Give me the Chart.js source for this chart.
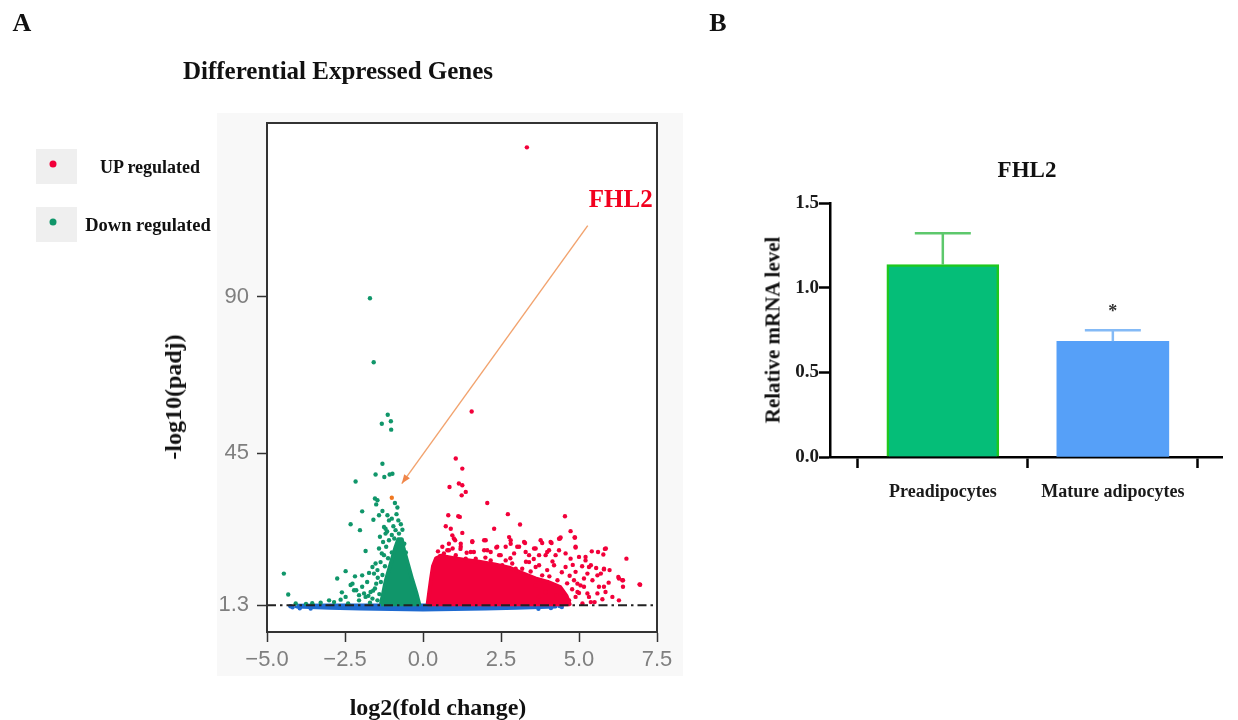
<!DOCTYPE html>
<html>
<head>
<meta charset="utf-8">
<script src="https://cdn.jsdelivr.net/npm/chart.js@4.4.0/dist/chart.umd.min.js"></script>
<style>
  body { margin: 0; width: 1238px; height: 720px; position: relative; overflow: hidden; background: #fff;
         font-family: "Liberation Serif", "Times New Roman", serif; font-weight: bold; color: #111; }
  .t { position: absolute; transform: translate(-50%, -50%); line-height: 1; white-space: nowrap; }
  .v { transform: translate(-50%, -50%) rotate(-90deg); }
  #panelA { position: absolute; left: 217px; top: 113px; width: 466px; height: 563px; background: #f8f8f8; }
  .box { position: absolute; left: 36px; width: 41px; height: 35px; background: #efefef; }
  .dot { position: absolute; width: 7px; height: 7px; border-radius: 50%; transform: translate(-50%, -50%); }
  canvas { position: absolute; top: 0; }
</style>
</head>
<body>
<div id="panelA"></div>
<canvas id="volcano" width="700" height="720" style="left:0"></canvas>
<canvas id="bars" width="538" height="720" style="left:700px"></canvas>

<div class="t" style="left:22px;top:23px;font-size:26px">A</div>
<div class="t" style="left:718px;top:23px;font-size:26px">B</div>
<div class="t" style="left:338px;top:70px;font-size:25px">Differential Expressed Genes</div>

<div class="box" style="top:149px"></div>
<div class="dot" style="left:53px;top:164px;background:#f2003a"></div>
<div class="t" style="left:150px;top:167px;font-size:18px">UP regulated</div>
<div class="box" style="top:207px"></div>
<div class="dot" style="left:53px;top:222px;background:#10966a"></div>
<div class="t" style="left:148px;top:225px;font-size:18.5px">Down regulated</div>

<div class="t v" style="left:173px;top:397px;font-size:24px">-log10(padj)</div>
<div class="t" style="left:438px;top:707px;font-size:24px">log2(fold change)</div>

<div class="t" style="left:1027px;top:169px;font-size:23px">FHL2</div>
<div class="t v" style="left:773px;top:330px;font-size:21px">Relative mRNA level</div>

<script>
// ---- panel A: volcano plot (log2 fold change, -log10 padj) ----
const xTicksA = [-5, -2.5, 0, 2.5, 5, 7.5];
const yTicksA = [1.3, 45, 90];
const padjCut = 1.3;

const upGenes = [
  [3.33,133.0],[1.56,57.0],[1.05,43.5],[1.26,40.6],[0.85,35.3],[1.15,36.3],[1.26,35.8],[1.37,33.9],[1.24,32.9],
  [2.06,30.7],[0.81,27.2],[1.13,26.9],[1.18,26.7],[2.72,27.5],[0.73,24.0],[0.89,23.3],[2.28,23.3],[3.11,24.5],
  [4.55,26.9],[4.73,22.6],[4.86,20.8],[1.26,22.1],[2.76,20.9],[2.81,20.0],[3.27,19.2],[2.01,20.0],
  [3.82,19.2],[4.12,19.2],[4.36,20.4],[4.41,20.8],[4.89,18.1],[5.41,16.8],[5.61,16.6],[5.83,17.5],
  [6.52,14.7],[5.98,11.4],[5.80,11.6],[6.26,9.4],[6.39,8.5],[6.94,7.3],[6.28,9.0],
  [0.94,21.4],[1.03,20.0],[1.21,19.0],[1.58,19.5],[1.63,16.6],[1.96,17.1],[2.35,17.9],[2.44,15.7],[2.65,18.1],
  [2.92,16.2],[3.08,18.1],[3.40,15.7],[3.56,17.6],[3.72,15.7],[4.04,17.1],[4.25,15.7],[4.57,16.2],[4.73,14.7],
  [5.00,15.2],[5.21,14.2],[5.38,12.8],[5.27,10.4],[5.43,8.5],[5.70,10.4],[5.64,6.6],[5.85,5.1],[5.16,6.6],
  [4.95,7.5],[4.89,3.7],[5.32,3.7],[5.11,1.8],[4.68,2.7],[4.47,5.1],[4.31,8.5],[4.89,10.9],[4.57,12.3],
  [4.84,8.5],[3.98,11.4],[3.61,12.3],[3.18,11.8],[2.86,13.3],[2.54,12.8],[2.17,14.2],[1.79,13.7],[1.37,14.7],
  [1.05,15.7],[0.78,17.1],[0.62,18.1],[0.83,19.0],[0.67,16.2],
  [6.41,6.6],[6.07,3.7],[6.28,2.7],[7.56,2.5],[7.57,4.5],[7.58,6.3],
  [5.50,2.2],[5.00,4.8],[5.75,3.0],[5.95,7.8],[5.55,12.0],[5.10,12.5],[4.70,9.8],[4.20,12.8],[3.30,13.8],
  [2.00,15.0],[1.20,17.5],[0.55,15.5],
  [0.99,20.5],[1.58,19.7],[1.96,20.0],[3.24,19.5],[3.77,20.0],[0.83,17.1],[1.21,18.1],[1.53,16.6],
  [2.06,17.1],[2.17,16.6],[2.38,18.1],[2.49,15.7],[2.81,19.0],[3.02,18.1],[3.29,16.6],[3.61,17.6],[3.93,15.7],
  [1.69,14.7],[2.65,14.2],[3.40,13.7],[3.72,12.8],[2.97,11.8],[3.18,9.9],[3.82,9.9],[3.61,7.0],[3.93,5.1],
  [3.72,3.7],[4.87,20.8],[4.89,17.9],[5.86,17.6],[5.78,15.9],[5.21,15.2],[5.32,12.3],[5.59,9.9],[5.80,11.8],
  [6.41,8.5],[6.96,7.2],[5.80,6.6],[5.59,4.7],[5.27,4.7],[5.05,7.0],[5.16,9.0],[4.95,5.1],[4.52,3.2],
  [5.38,2.2],[4.09,19.5],[4.39,20.5],[4.36,17.1],[3.98,16.6],[4.15,13.9],[4.45,10.8],[4.62,7.6],[4.78,5.9],
  [4.28,4.2],[4.05,9.6],[3.45,11.0],[1.40,16.4],[0.48,16.8],[0.95,17.6],[2.80,14.8],[3.55,14.6],[4.80,12.9]
];

const downGenes = [
  [-1.70,89.6],[-1.58,71.2],[-1.13,56.1],[-1.32,53.5],[-1.03,54.2],[-1.02,51.8],
  [-1.30,42.0],[-1.52,38.9],[-1.24,38.2],[-1.07,38.9],[-0.98,39.1],[-2.16,36.9],
  [-1.54,32.0],[-1.46,31.5],[-1.95,28.3],[-1.50,30.3],[-1.30,28.4],[-0.90,30.7],[-0.82,29.4],
  [-1.59,25.9],[-1.41,27.2],[-1.14,27.2],[-1.09,25.7],[-1.00,26.2],[-0.79,25.7],[-0.71,24.6],
  [-2.32,24.6],[-2.02,22.9],[-1.25,23.8],[-1.20,23.3],[-0.88,22.9],[-0.77,21.9],
  [-1.84,16.9],[-1.41,17.6],[-1.32,16.2],[-1.52,13.3],[-1.62,12.3],[-1.57,10.4],
  [-4.46,10.4],[-4.32,4.4],[-4.08,1.8],[-3.28,2.0],[-3.01,2.7],[-2.75,9.0],[-2.48,11.1],[-2.18,9.6],
  [-1.95,9.9],[-1.73,10.6],[-2.32,7.1],[-2.21,5.6],[-2.05,4.2],[-1.89,4.7],[-2.26,7.5],
  [-2.14,5.6],[-1.95,6.6],[-1.79,8.0],[-1.68,5.1],[-1.54,6.1],[-1.84,3.7],[-1.62,3.2],[-2.48,3.7],
  [-2.64,2.9],[-2.05,2.7],[-1.46,2.7],[-1.46,11.4],[-1.36,13.7],[-1.25,15.7],[-1.18,18.1],[-1.09,20.0],
  [-1.20,21.9],[-3.55,1.9],[-3.75,1.7],[-2.85,2.2],[-2.40,1.8],[-1.70,2.0],[-2.60,5.0],[-1.40,4.5],
  [-1.35,8.0],[-1.00,21.5],[-0.92,20.5],[-0.60,19.0],[-0.55,16.5],[-0.95,24.0],[-1.15,22.5],[-0.66,23.0],
  [-1.38,21.0],[-1.28,19.5],[-0.85,27.5],
  [-1.30,10.0],[-1.45,9.2],[-1.50,7.5],[-1.60,5.5],[-1.75,4.0],[-1.22,12.5],[-1.00,16.5],[-1.12,14.8]
];

// outlines of the packed clouds (point centres)
const upCore = [
  [0.15,1.6],[0.20,5.0],[0.26,9.0],[0.32,12.5],[0.42,14.8],[0.60,15.5],[0.90,15.0],[1.30,14.4],[1.80,13.8],
  [2.30,13.0],[2.80,12.0],[3.20,10.5],[3.60,9.0],[4.00,8.0],[4.40,6.5],[4.60,4.0],[4.70,1.6],[0.15,1.6]
];
const downCore = [
  [-1.35,1.6],[-1.27,5.0],[-1.19,8.5],[-1.03,13.4],[-0.88,18.0],[-0.79,20.3],[-0.68,20.3],[-0.62,17.5],
  [-0.48,13.0],[-0.34,8.5],[-0.22,5.0],[-0.12,1.6],[-1.35,1.6]
];
const nsBand = [
  [-4.05,1.15],[-3.0,1.25],[-1.5,1.25],[0.0,1.2],[1.5,1.25],[3.0,1.25],[4.25,1.15],[4.25,0.9],[3.0,0.6],
  [2.0,0.35],[1.0,0.2],[0.0,0.1],[-1.0,0.2],[-2.0,0.35],[-3.0,0.6],[-4.05,0.9],[-4.05,1.15]
];
const nsGenes = [
  [-4.25,1.0],[-4.18,0.7],[-3.95,0.45],[-3.60,0.35],[3.70,0.3],[4.10,0.5],[4.38,1.05],[4.45,0.8],
  [7.55,0.9],[7.56,0.4]
];
const fhl2Gene = [[-1.0,32.2]];
const fhl2Arrow = [[5.28,110.5],[-0.68,36.3]];

// ---- panel B: qPCR of FHL2 ----
const groupsB = ['Preadipocytes', 'Mature adipocytes'];
const meanB = [1.136, 0.683];
const sdB = [0.185, 0.065];
const yTicksB = [0, 0.5, 1.0, 1.5];

const RED = '#f2003a', GREEN = '#10966a', BLUE = '#1e6ad0';
const SANS = '"Liberation Sans", Arial, sans-serif';
Chart.defaults.font.family = '"Liberation Serif", "Times New Roman", serif';

const xy = a => a.map(p => ({ x: p[0], y: p[1] }));

function cloud(data, color, order) {
  return { type: 'line', data: xy(data), fill: 'shape', backgroundColor: color, borderColor: color,
           borderWidth: 4, borderJoinStyle: 'round', pointRadius: 0, order: order };
}
function dots(data, color, order) {
  return { data: xy(data), backgroundColor: color, borderWidth: 0, pointRadius: 2.2, order: order };
}

const volcanoDeco = {
  id: 'volcanoDeco',
  beforeDraw(chart) {
    const a = chart.chartArea, ctx = chart.ctx;
    ctx.save();
    ctx.fillStyle = '#fff';
    ctx.fillRect(a.left, a.top, a.right - a.left, a.bottom - a.top);
    ctx.restore();
  },
  afterDatasetsDraw(chart) {
    const ctx = chart.ctx, pts = chart.getDatasetMeta(1).data;
    const p0 = pts[0], p1 = pts[1];
    const ang = Math.atan2(p1.y - p0.y, p1.x - p0.x);
    ctx.save();
    ctx.fillStyle = '#f0864a';
    ctx.beginPath();
    ctx.moveTo(p1.x, p1.y);
    ctx.lineTo(p1.x - 9 * Math.cos(ang) + 3.5 * Math.sin(ang), p1.y - 9 * Math.sin(ang) - 3.5 * Math.cos(ang));
    ctx.lineTo(p1.x - 9 * Math.cos(ang) - 3.5 * Math.sin(ang), p1.y - 9 * Math.sin(ang) + 3.5 * Math.cos(ang));
    ctx.closePath();
    ctx.fill();
    ctx.fillStyle = '#f2001e';
    ctx.font = 'bold 25px "Liberation Serif", serif';
    ctx.textAlign = 'center';
    ctx.textBaseline = 'middle';
    ctx.fillText('FHL2', p0.x + 33, p0.y - 25);
    ctx.restore();
  },
  afterDraw(chart) {
    const a = chart.chartArea, ctx = chart.ctx;
    ctx.save();
    ctx.strokeStyle = '#333';
    ctx.lineWidth = 2;
    ctx.strokeRect(a.left, a.top, a.right - a.left, a.bottom - a.top);
    ctx.restore();
  }
};

new Chart(document.getElementById('volcano'), {
  type: 'scatter',
  data: {
    datasets: [
      { type: 'line', data: xy([[-5, padjCut], [7.5, padjCut]]), borderColor: '#222', borderWidth: 1.8,
        borderDash: [9, 4, 2.5, 4], pointRadius: 0, order: 0 },
      { type: 'line', data: xy(fhl2Arrow), borderColor: '#f2a36e', borderWidth: 1.4, pointRadius: 0, order: 1 },
      dots(fhl2Gene, '#f07820', 2),
      dots(upGenes, RED, 3),
      dots(downGenes, GREEN, 4),
      cloud(upCore, RED, 5),
      cloud(downCore, GREEN, 6),
      dots(nsGenes, BLUE, 7),
      cloud(nsBand, BLUE, 8)
    ]
  },
  options: {
    responsive: false, animation: false, events: [],
    layout: { padding: { top: 123, right: 43, left: 0, bottom: 0 } },
    plugins: { legend: { display: false }, tooltip: { enabled: false } },
    scales: {
      x: {
        type: 'linear', min: -5, max: 7.5,
        afterBuildTicks: s => { s.ticks = xTicksA.map(v => ({ value: v })); },
        afterFit: s => { s.height = 88; },
        ticks: { color: '#7f7f7f', font: { family: SANS, size: 22, weight: 'normal' }, padding: 5,
                 autoSkip: false, maxRotation: 0, callback: v => v.toFixed(1).replace('-', '\u2212') },
        grid: { drawOnChartArea: false, tickLength: 10, tickColor: '#333', tickWidth: 1.5 },
        border: { color: '#333', width: 2 }
      },
      y: {
        type: 'linear', min: -6.4, max: 140,
        afterBuildTicks: s => { s.ticks = yTicksA.map(v => ({ value: v })); },
        afterFit: s => { s.width = 267; },
        ticks: { color: '#7f7f7f', font: { family: SANS, size: 22, weight: 'normal' }, padding: 8,
                 autoSkip: false, callback: v => String(v) },
        grid: { drawOnChartArea: false, tickLength: 10, tickColor: '#333', tickWidth: 1.5 },
        border: { color: '#333', width: 2 }
      }
    }
  },
  plugins: [volcanoDeco]
});

const errorBars = {
  id: 'errorBars',
  afterDatasetsDraw(chart) {
    const ctx = chart.ctx, xs = chart.scales.x, ys = chart.scales.y;
    const colors = ['#5dc86c', '#84baf6'];
    ctx.save();
    ctx.lineWidth = 2.5;
    meanB.forEach((m, i) => {
      const x = xs.getPixelForValue(i), yTop = ys.getPixelForValue(m + sdB[i]), yBar = ys.getPixelForValue(m);
      ctx.strokeStyle = colors[i];
      ctx.beginPath();
      ctx.moveTo(x, yBar); ctx.lineTo(x, yTop);
      ctx.moveTo(x - 28, yTop); ctx.lineTo(x + 28, yTop);
      ctx.stroke();
      if (i === 1) {
        ctx.fillStyle = '#333';
        ctx.font = 'bold 18px "Liberation Serif", serif';
        ctx.textAlign = 'center';
        ctx.textBaseline = 'middle';
        ctx.fillText('*', x, yTop - 18);
      }
    });
    ctx.restore();
  }
};

new Chart(document.getElementById('bars'), {
  type: 'bar',
  data: {
    datasets: [{
      data: meanB.map((m, i) => ({ x: i, y: m })),
      backgroundColor: ['#05be78', '#56a0f8'],
      borderColor: ['#1ec81e', '#56a0f8'],
      borderWidth: [2.5, 0],
      barThickness: 112
    }]
  },
  options: {
    responsive: false, animation: false, events: [],
    layout: { padding: { top: 203, right: 16, left: 0, bottom: 0 } },
    plugins: { legend: { display: false }, tooltip: { enabled: false } },
    scales: {
      x: {
        type: 'linear', min: -0.6635, max: 1.642, offset: false,
        afterBuildTicks: s => { s.ticks = groupsB.map((g, i) => ({ value: i })); },
        afterFit: s => { s.height = 263; },
        ticks: { color: '#1a1a1a', font: { size: 18, weight: 'bold' }, padding: 14, autoSkip: false,
                 maxRotation: 0, callback: v => groupsB[v] },
        grid: { drawOnChartArea: false, tickLength: 11, tickWidth: 2.5, tickColor: '#000' },
        border: { color: '#000', width: 2.5 }
      },
      y: {
        min: 0, max: 1.5,
        afterBuildTicks: s => { s.ticks = yTicksB.map(v => ({ value: v })); },
        afterFit: s => { s.width = 130; },
        ticks: { color: '#1a1a1a', font: { size: 19, weight: 'bold' }, padding: 0, callback: v => v.toFixed(1) },
        grid: { drawOnChartArea: false, tickLength: 11, tickWidth: 2.5, tickColor: '#000' },
        border: { color: '#000', width: 2.5 }
      }
    }
  },
  plugins: [errorBars]
});
</script>
</body>
</html>
